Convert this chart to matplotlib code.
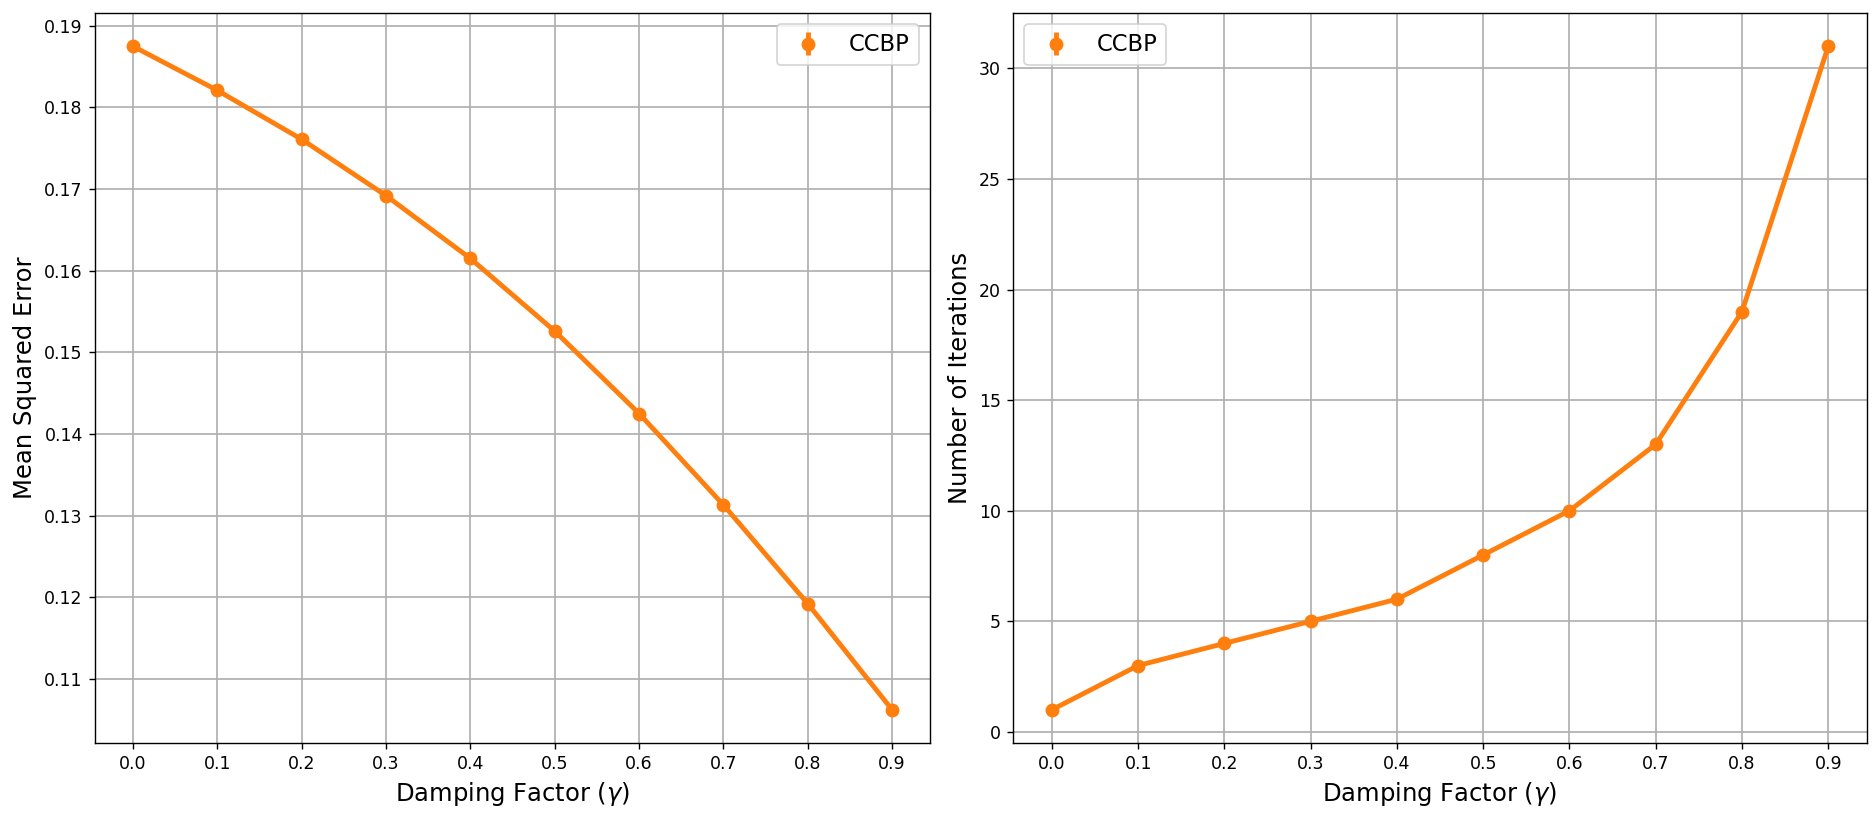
import matplotlib
matplotlib.use("Agg")
import matplotlib.pyplot as plt
import numpy as np

# damping factor sweep
gamma = [0.0, 0.1, 0.2, 0.3, 0.4, 0.5, 0.6, 0.7, 0.8, 0.9]
mse_ccbp = [0.1875, 0.1821, 0.1761, 0.1692, 0.1615, 0.1526, 0.1425, 0.1313, 0.1192, 0.1062]
iters_ccbp = [1, 3, 4, 5, 6, 8, 10, 13, 19, 31]
series_label = "CCBP"
x_label = r"Damping Factor ($\gamma$)"

color = "#ff7f0e"

fig = plt.figure(figsize=(14.992, 6.56), dpi=125)
ax1 = fig.add_axes([0.0507, 0.094, 0.4963 - 0.0507, 0.984 - 0.094])
ax2 = fig.add_axes([0.5406, 0.094, 0.9963 - 0.5406, 0.984 - 0.094])


def draw(ax, y, ylabel, legend_loc):
    # line drawn separately so the legend only shows the errorbar marker
    ax.plot(gamma, y, "-", color=color, linewidth=2.8)
    ax.errorbar(gamma, y, yerr=np.zeros(len(gamma)), fmt="o", color=color,
                markersize=7, elinewidth=2.8, label=series_label)
    ax.set_xlabel(x_label, fontsize=14)
    ax.set_ylabel(ylabel, fontsize=14)
    ax.set_xticks(gamma)
    ax.grid(True, color="#b0b0b0", linewidth=1)
    ax.tick_params(labelsize=10)
    ax.legend(loc=legend_loc, fontsize=13)


draw(ax1, mse_ccbp, "Mean Squared Error", "upper right")
draw(ax2, iters_ccbp, "Number of Iterations", "upper left")

fig.savefig("out.png", dpi=125)
